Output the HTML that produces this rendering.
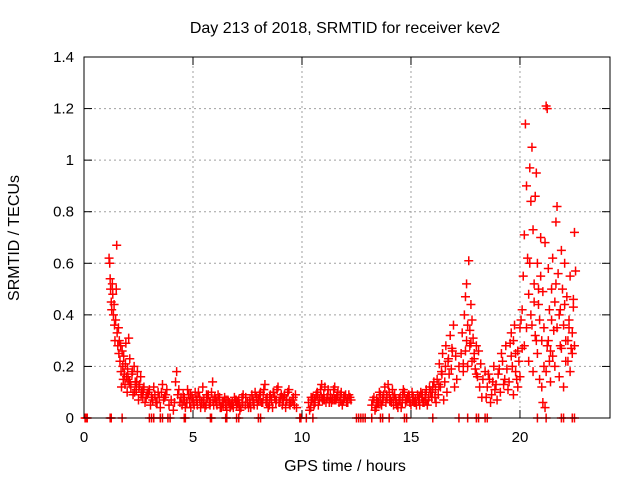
<!DOCTYPE html>
<html><head><meta charset="utf-8"><style>
body{margin:0;background:#fff;}
svg text{font-family:"Liberation Sans",sans-serif;font-size:15px;fill:#000;}
svg text.big{font-size:16px;}
</style></head><body>
<svg id="chart" width="640" height="480" xmlns="http://www.w3.org/2000/svg">
<rect width="640" height="480" fill="#fff"/>
<text class="big" x="345" y="33" text-anchor="middle">Day 213 of 2018, SRMTID for receiver kev2</text>
<text class="big" x="345" y="471" text-anchor="middle">GPS time / hours</text>
<text class="big" x="19" y="238" text-anchor="middle" transform="rotate(-90 19 238)">SRMTID / TECUs</text>
<g id="grid"></g>
<g id="axes"></g>
<g id="marks"></g>
<rect x="84" y="57" width="526" height="361" fill="none" stroke="#000" stroke-width="1"/>
</svg>
<script>
const xTicks=[0,5,10,15,20];
const yTicks=[0,0.2,0.4,0.6,0.8,1,1.2,1.4];
const yTickLabels=["0","0.2","0.4","0.6","0.8","1","1.2","1.4"];
const hours=[
1.15,1.18,1.2,1.22,1.25,1.27,1.3,1.32,1.35,1.38,
1.4,1.42,1.45,1.48,1.5,1.52,1.55,1.58,1.6,1.62,
1.65,1.68,1.7,1.72,1.75,1.78,1.8,1.82,1.85,1.88,
1.9,1.92,1.95,1.98,2.0,2.05,2.08,2.1,2.15,2.2,
2.25,2.3,2.35,2.4,2.45,2.5,2.55,2.6,2.65,2.7,
2.75,2.8,2.9,3.0,3.05,3.1,3.2,3.3,3.4,3.5,
3.6,3.7,3.8,3.9,4.0,4.1,4.2,4.25,4.3,4.4,
4.5,4.6,4.7,4.8,4.9,5.0,5.1,5.2,5.3,5.4,
4.55,4.65,4.75,4.85,4.95,5.05,5.15,5.25,5.35,5.45,
5.5,5.6,5.7,5.8,5.9,6.0,6.1,6.2,6.3,6.4,
5.55,5.65,5.75,5.85,5.95,6.05,6.15,6.25,6.35,6.45,
6.5,6.6,6.7,6.8,6.9,7.0,7.1,7.2,7.3,7.5,
6.55,6.65,6.75,6.85,6.95,7.05,7.15,7.25,7.4,7.55,
7.6,7.7,7.8,7.9,8.0,8.1,8.2,8.3,8.4,8.5,
7.65,7.75,7.85,7.95,8.05,8.15,8.25,8.35,8.45,8.55,
8.6,8.7,8.8,8.9,9.0,9.1,9.2,9.3,9.4,9.5,
8.65,8.75,8.85,8.95,9.05,9.15,9.25,9.35,9.45,9.6,
9.65,9.7,9.75,
10.3,10.4,10.5,10.6,10.7,10.8,10.9,11.0,11.1,11.2,
10.35,10.45,10.55,10.65,10.75,10.85,10.95,11.05,11.15,11.25,
11.3,11.4,11.5,11.6,11.7,11.8,11.9,12.0,12.1,12.2,
11.35,11.45,11.55,11.65,11.75,11.85,11.95,12.05,12.15,12.25,
13.2,13.3,13.4,13.5,13.6,13.7,13.8,13.9,14.0,14.1,
13.25,13.35,13.45,13.55,13.65,13.75,13.85,13.95,14.05,14.15,
14.2,14.3,14.4,14.5,14.6,14.7,14.8,14.9,15.0,15.1,
14.25,14.35,14.45,14.55,14.65,14.75,14.85,14.95,15.05,15.15,
15.2,15.3,15.4,15.5,15.6,15.7,15.8,15.9,16.0,16.1,
15.25,15.35,15.45,15.55,15.65,15.75,15.85,15.95,16.05,16.15,
16.2,16.25,16.3,16.35,16.4,16.45,16.5,16.55,16.6,16.65,
16.7,16.75,16.8,16.85,16.9,17.0,17.1,17.2,16.95,17.05,
17.3,17.35,17.4,17.45,17.5,17.55,17.6,17.65,17.7,17.75,
17.4,17.5,17.6,17.7,17.8,17.85,17.9,17.95,18.0,18.05,
17.8,17.9,18.0,18.1,18.15,18.2,18.25,18.3,17.55,17.75,
18.4,18.5,18.6,18.7,18.8,18.9,19.0,19.1,19.2,19.3,
18.45,18.55,18.65,18.75,18.85,18.95,19.05,19.15,19.25,19.35,
19.4,19.5,19.6,19.7,19.8,19.9,20.0,19.45,19.55,19.65,
19.75,19.85,19.95,20.05,19.9,19.8,20.0,19.6,19.7,20.1,
20.1,20.15,20.2,20.25,20.3,20.35,20.4,20.45,20.5,20.55,
20.6,20.65,20.7,20.75,20.8,20.85,20.9,20.95,21.0,21.05,
21.1,21.15,21.2,21.25,21.3,21.35,21.4,21.45,21.5,21.55,
21.6,21.65,21.7,21.75,21.8,21.85,21.9,21.95,22.0,22.05,
22.1,22.15,22.2,22.25,22.3,22.35,22.4,22.45,22.5,22.55,
20.2,20.3,20.4,20.5,20.6,20.7,20.8,20.9,21.0,21.1,
21.2,21.3,21.4,21.5,21.6,21.7,21.8,21.9,22.0,22.1,
22.2,22.3,22.4,22.5,20.45,20.65,20.85,21.05,21.25,21.45,
21.65,21.85,22.05,22.25,22.45,21.15,21.35,20.95,20.75,20.55,
2.02,2.12,2.22,2.32,2.42,2.52,2.62,2.72,2.85,2.95,
3.15,3.25,3.35,3.45,3.55,3.65,3.75,4.15,4.35,4.45,
4.58,4.72,4.88,5.02,5.18,5.32,5.48,5.62,5.78,5.92,
6.08,6.22,6.38,6.52,6.68,6.82,6.98,7.12,7.28,7.42,
7.62,7.78,7.92,8.08,8.22,8.38,8.52,8.68,8.82,8.98,
9.12,9.28,9.42,9.58,10.42,10.58,10.72,10.88,11.02,11.18,
11.32,11.48,11.62,11.78,11.92,12.08,13.42,13.58,13.72,13.88,
14.02,14.18,14.32,14.48,14.62,14.78,14.92,15.08,15.22,15.38,
15.52,15.68,15.82,15.98,16.12,16.28,16.42,16.58,16.72,16.88
];
const tecu=[
.62,.60,.54,.50,.45,.42,.52,.48,.40,.44,
.36,.30,.38,.50,.67,.33,.28,.35,.25,.30,
.22,.28,.18,.12,.26,.20,.15,.24,.17,.13,
.21,.29,.16,.10,.19,.31,.14,.23,.12,.17,
.09,.20,.14,.11,.18,.07,.13,.16,.10,.08,
.12,.06,.09,.11,.05,.08,.12,.06,.10,.04,
.13,.08,.11,.05,.07,.03,.14,.18,.09,.06,
.05,.08,.06,.09,.04,.07,.10,.05,.08,.06,
.09,.04,.11,.06,.08,.05,.07,.10,.04,.12,
.07,.05,.09,.06,.14,.08,.05,.07,.04,.06,
.04,.08,.06,.10,.05,.07,.09,.04,.06,.08,
.05,.07,.04,.06,.08,.05,.07,.04,.09,.06,
.03,.06,.05,.04,.07,.06,.03,.08,.05,.04,
.06,.09,.05,.08,.07,.10,.06,.13,.08,.05,
.04,.07,.10,.05,.09,.06,.11,.07,.04,.09,
.07,.10,.06,.12,.08,.05,.09,.07,.11,.06,
.04,.08,.11,.06,.09,.07,.04,.10,.05,.08,
.05,.09,.04,
.06,.04,.08,.06,.10,.07,.13,.09,.06,.11,
.03,.07,.05,.09,.05,.11,.07,.12,.08,.06,
.09,.07,.12,.08,.06,.10,.07,.09,.06,.08,
.06,.11,.07,.10,.09,.05,.08,.06,.09,.07,
.05,.08,.04,.06,.09,.07,.12,.08,.10,.06,
.07,.03,.06,.10,.05,.09,.06,.13,.07,.11,
.05,.07,.04,.08,.06,.10,.07,.09,.05,.08,
.09,.05,.07,.04,.11,.06,.08,.06,.10,.06,
.07,.09,.05,.08,.06,.11,.07,.10,.12,.08,
.05,.07,.10,.06,.09,.05,.12,.08,.14,.06,
.15,.09,.21,.12,.18,.25,.07,.14,.28,.10,
.22,.17,.32,.19,.26,.12,.15,.20,.36,.24,
.25,.33,.21,.40,.47,.30,.36,.61,.28,.44,
.18,.26,.20,.34,.22,.31,.25,.19,.28,.16,
.38,.23,.17,.26,.12,.21,.08,.15,.52,.29,
.18,.12,.15,.09,.20,.13,.17,.10,.22,.15,
.08,.17,.06,.14,.11,.07,.19,.25,.13,.28,
.19,.14,.24,.30,.18,.26,.35,.11,.29,.20,
.36,.15,.22,.38,.12,.25,.16,.33,.09,.27,
.42,.55,.71,1.14,.90,.62,.48,.97,.84,1.05,
.73,.52,.86,.95,.60,.44,.38,.70,.30,.49,
.35,.68,1.21,1.20,.58,.42,.26,.50,.62,.34,
.45,.76,.82,.56,.40,.28,.65,.50,.36,.44,
.30,.47,.22,.38,.55,.27,.33,.43,.72,.57,
.28,.35,.22,.40,.18,.32,.25,.15,.12,.20,
.18,.30,.14,.24,.20,.35,.16,.27,.12,.22,
.30,.18,.25,.28,.60,.45,.50,.06,.28,.38,
.52,.42,.60,.35,.46,.04,.22,.55,.30,.36,
.15,.13,.18,.10,.14,.12,.09,.11,.08,.10,
.07,.09,.06,.08,.10,.07,.09,.06,.11,.08,
.07,.06,.09,.06,.08,.07,.06,.09,.05,.07,
.06,.08,.05,.07,.06,.05,.07,.05,.06,.08,
.07,.06,.08,.07,.09,.06,.08,.10,.07,.06,
.08,.07,.06,.07,.08,.07,.09,.08,.07,.09,
.08,.07,.09,.07,.08,.07,.07,.06,.08,.09,
.07,.08,.06,.07,.09,.07,.08,.07,.06,.08,
.09,.07,.08,.10,.11,.13,.17,.20,.23,.27
];
const zeroHours=[0.05,0.1,0.15,1.2,1.25,1.75,3.0,3.1,3.2,3.5,3.6,3.85,3.95,4.6,4.65,5.8,5.85,6.5,6.55,7.0,7.1,8.0,8.1,9.9,9.95,10.2,10.5,12.5,12.6,12.7,12.8,12.9,13.2,13.6,13.7,14.0,14.7,14.8,16.0,17.2,17.6,18.0,18.1,18.4,18.5,20.8,21.2,21.9,22.0,22.4,22.5];
const NS="http://www.w3.org/2000/svg";
const X0=84,X1=610,Y0=418,Y1=57,XMAX=24.13,YMAX=1.4;
function xs(h){return X0+(X1-X0)*h/XMAX;}
function ys(v){return Y0-(Y0-Y1)*v/YMAX;}
function mk(tag,attrs,parent){const e=document.createElementNS(NS,tag);for(const k in attrs)e.setAttribute(k,attrs[k]);parent.appendChild(e);return e;}
const grid=document.getElementById('grid'),axes=document.getElementById('axes'),marks=document.getElementById('marks');
yTicks.forEach((t,i)=>{const y=ys(t);
 if(i>0&&i<yTicks.length-1){const g=mk('line',{x1:X0,x2:X1,y1:y,y2:y,stroke:'#a0a0a0','stroke-dasharray':'2,3'},grid);
 
 }
 mk('line',{x1:X0,x2:X0+8,y1:y,y2:y,stroke:'#000'},axes);
 mk('line',{x1:X1,x2:X1-8,y1:y,y2:y,stroke:'#000'},axes);
 const l=mk('text',{x:X0-10,y:y+5,'text-anchor':'end'},axes);l.textContent=yTickLabels[i];
 
 
});
xTicks.forEach(t=>{const x=xs(t);
 if(t>0){const g=mk('line',{x1:x,x2:x,y1:Y0,y2:Y1,stroke:'#a0a0a0','stroke-dasharray':'2,3'},grid);
 
 }
 mk('line',{x1:x,x2:x,y1:Y0,y2:Y0-8,stroke:'#000'},axes);
 mk('line',{x1:x,x2:x,y1:Y1,y2:Y1+8,stroke:'#000'},axes);
 const l=mk('text',{x:x,y:Y0+24,'text-anchor':'middle'},axes);l.textContent=String(t);
 
 
});
function plus(h,v){const x=xs(h),y=ys(v);
 const p=mk('path',{d:`M${x-4.5},${y}H${x+4.5}M${x},${y-4.5}V${y+4.5}`,stroke:'#f00','stroke-width':1.5,fill:'none'},marks);
 
 
}
hours.forEach((h,i)=>plus(h,tecu[i]));
zeroHours.forEach(h=>plus(h,0));
</script>
</body></html>
